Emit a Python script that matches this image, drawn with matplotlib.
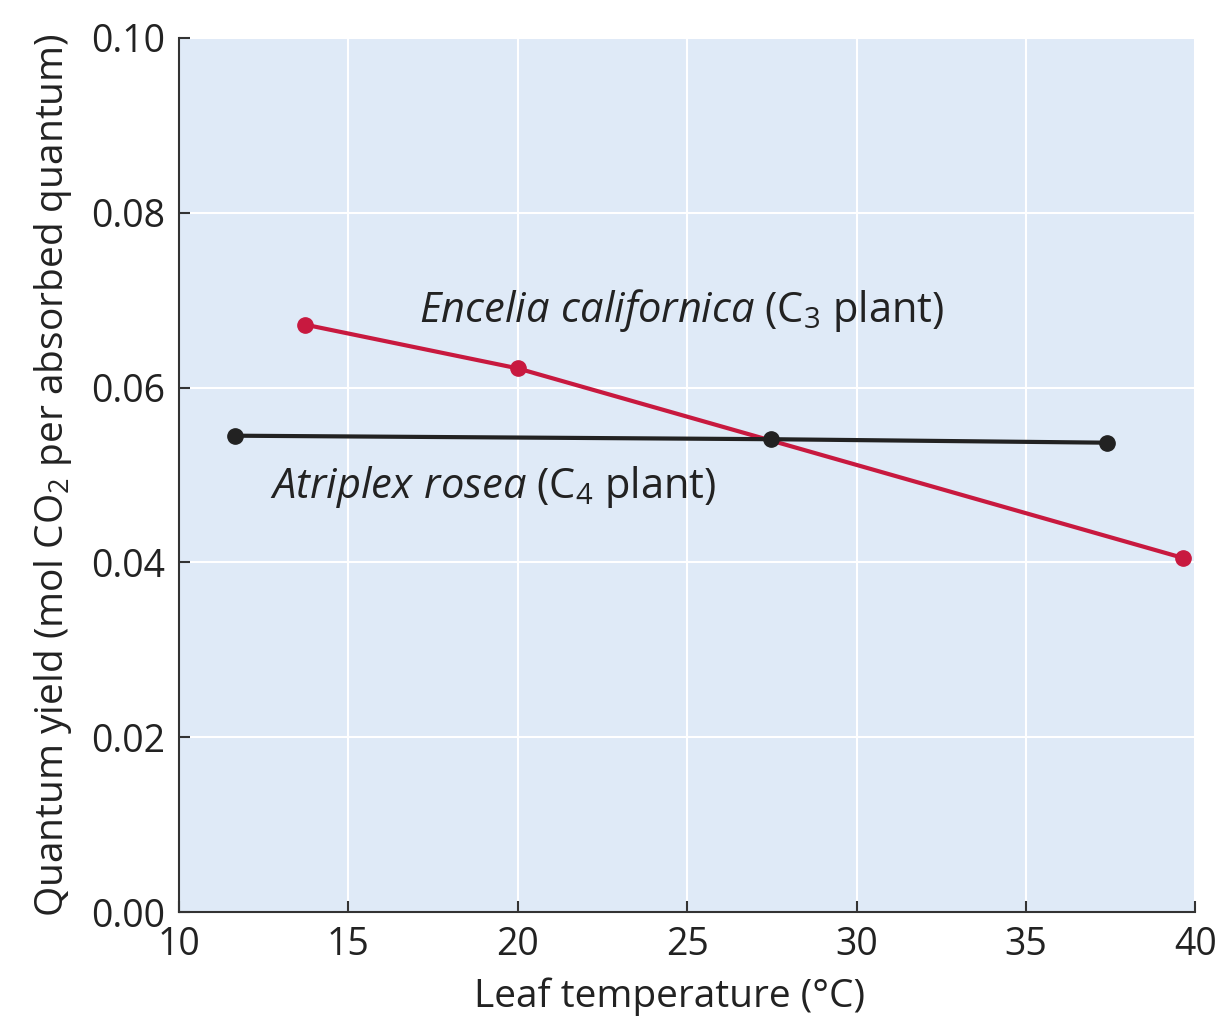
import matplotlib
matplotlib.use("Agg")
import matplotlib.pyplot as plt

plt.rcParams['font.family'] = ['Open Sans', 'DejaVu Sans']
plt.rcParams['mathtext.fontset'] = 'custom'
plt.rcParams['mathtext.rm'] = 'Open Sans'
plt.rcParams['mathtext.it'] = 'Open Sans:italic'
plt.rcParams['mathtext.bf'] = 'Open Sans:bold'

# Data
c3_temp = [13.73, 20.0, 39.65]
c3_yield = [0.0672, 0.0622, 0.0405]
c4_temp = [11.66, 27.46, 37.4]
c4_yield = [0.0545, 0.0541, 0.0537]

x_ticks = [10, 15, 20, 25, 30, 35, 40]
y_ticks = [0.00, 0.02, 0.04, 0.06, 0.08, 0.10]

fig = plt.figure(figsize=(12.26, 10.26), dpi=100)
ax = fig.add_axes([0.146, 0.111, 0.829, 0.852])
ax.set_facecolor('#dfeaf7')

ax.plot(c3_temp, c3_yield, color='#c8193f', lw=3, marker='o', ms=11, zorder=3)
ax.plot(c4_temp, c4_yield, color='#222222', lw=3, marker='o', ms=11, zorder=3)

ax.set_xlim(10, 40)
ax.set_ylim(0, 0.10)
ax.set_xticks(x_ticks)
ax.set_yticks(y_ticks)
ax.set_yticklabels([f"{v:.2f}" for v in y_ticks])
ax.grid(True, color='white', lw=1.5, zorder=0)
ax.set_axisbelow(True)

for s in ['top', 'right']:
    ax.spines[s].set_visible(False)
for s in ['left', 'bottom']:
    ax.spines[s].set_color('#333333')
    ax.spines[s].set_linewidth(1.5)

ax.tick_params(axis='both', direction='in', length=8, width=1.5, color='#333333',
               labelsize=27, labelcolor='#222222', pad=10)
ax.tick_params(axis='x', pad=10)

ax.set_xlabel('Leaf temperature (°C)', fontsize=28, color='#222222', labelpad=12)
ax.xaxis.set_label_coords(0.483, -0.075)
ax.set_ylabel('Quantum yield (mol CO$_2$ per absorbed quantum)', fontsize=28,
              color='#222222', labelpad=12)

ax.text(17.07, 0.0688, r'$\mathit{Encelia\ californica}$ (C$_3$ plant)', fontsize=30,
        color='#222222', va='center', ha='left')
ax.text(12.69, 0.0486, r'$\mathit{Atriplex\ rosea}$ (C$_4$ plant)', fontsize=30,
        color='#222222', va='center', ha='left')

fig.savefig('out.png', dpi=100)
